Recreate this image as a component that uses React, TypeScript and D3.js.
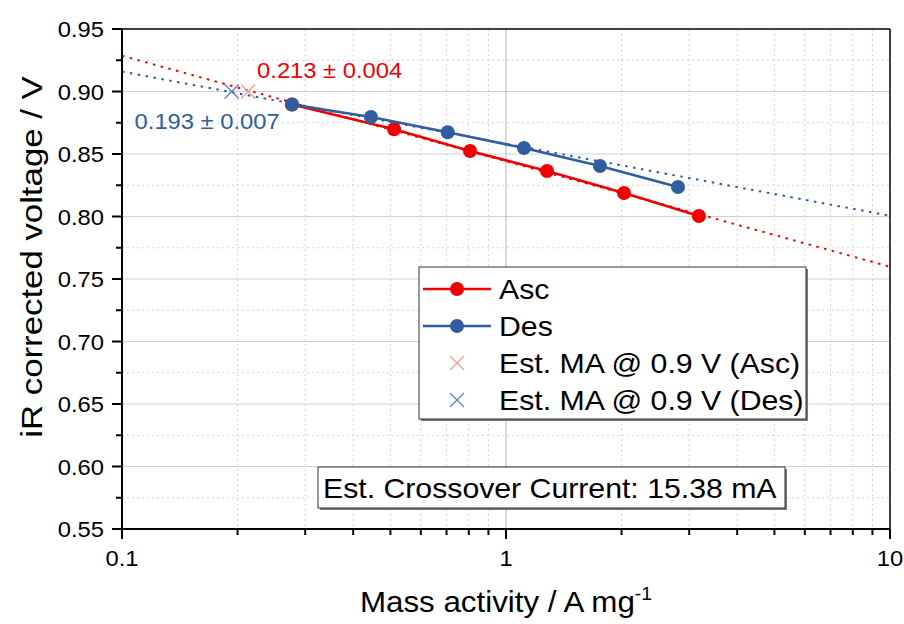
import React from "react";
import * as d3 from "d3";

// ---- data ----
const ascMA = [0.277, 0.511, 0.806, 1.279, 2.029, 3.18];
const ascV = [0.8896, 0.8698, 0.8524, 0.8364, 0.8188, 0.8004];
const desMA = [0.277, 0.445, 0.705, 1.114, 1.757, 2.805];
const desV = [0.8896, 0.8796, 0.8674, 0.8548, 0.8404, 0.8236];
const fitIntercepts = [0.8442, 0.85825]; // V at 1 A/mg (Asc, Des)
const fitSlopes = [-0.0844, -0.05765]; // V per decade (Asc, Des)
const estMA = [0.213, 0.193];
const estV = [0.9, 0.9];
const estLabels = ["0.213 ± 0.004", "0.193 ± 0.007"];
const xTickValues = [0.1, 1, 10];
const xTickLabels = ["0.1", "1", "10"];
const yTickValues = [0.55, 0.6, 0.65, 0.7, 0.75, 0.8, 0.85, 0.9, 0.95];
const yTickLabels = ["0.55", "0.60", "0.65", "0.70", "0.75", "0.80", "0.85", "0.90", "0.95"];
const legendLabels = ["Asc", "Des", "Est. MA @ 0.9 V (Asc)", "Est. MA @ 0.9 V (Des)"];
const crossoverText = "Est. Crossover Current: 15.38 mA";
const xTitle = "Mass activity / A mg";
const xTitleSup = "-1";
const yTitle = "iR corrected voltage / V";

// ---- styles ----
const RED = "#f00000";
const BLUE = "#2f5d9f";
const RED_X = "#f49a9a";
const BLUE_X = "#5a7fc0";
const FONT = "'Liberation Sans', Arial, sans-serif";
const SX = 1.08;

const W = 904;
const H = 624;
const L = 122, R = 890, T = 29, B = 529;

const x = d3.scaleLog().domain([0.1, 10]).range([L, R]);
const y = d3.scaleLinear().domain([0.55, 0.95]).range([B, T]);

function Txt({ x: tx, y: ty, size, fill = "#000", anchor = "start", rotate = 0, sx = SX, children }: any) {
  return (
    <text
      transform={`translate(${tx},${ty}) rotate(${rotate}) scale(${sx},1)`}
      fontFamily={FONT}
      fontSize={size}
      fill={fill}
      textAnchor={anchor}
    >
      {children}
    </text>
  );
}

function Cross({ cx, cy, s, color }: any) {
  return (
    <g stroke={color} strokeWidth={1.3}>
      <line x1={cx - s} y1={cy - s} x2={cx + s} y2={cy + s} />
      <line x1={cx - s} y1={cy + s} x2={cx + s} y2={cy - s} />
    </g>
  );
}

export default function App() {
  const minorX: number[] = [];
  [0.1, 1].forEach((d) => {
    for (let k = 2; k <= 9; k++) minorX.push(d * k);
  });
  const minorY: number[] = [];
  for (let i = 0; i < yTickValues.length - 1; i++) minorY.push((yTickValues[i] + yTickValues[i + 1]) / 2);

  const line = d3
    .line<[number, number]>()
    .x((d) => x(d[0]))
    .y((d) => y(d[1]));

  const ascPts: [number, number][] = ascMA.map((m, i) => [m, ascV[i]]);
  const desPts: [number, number][] = desMA.map((m, i) => [m, desV[i]]);
  const fitPts = (i: number): [number, number][] =>
    x.domain().map((m) => [m, fitIntercepts[i] + fitSlopes[i] * Math.log10(m)] as [number, number]);

  const colors = [RED, BLUE];
  const xColors = [RED_X, BLUE_X];

  // legend
  const lgX = 419, lgY = 267, lgW = 387, lgH = 152;
  const rowY = [289, 326, 363, 400];

  return (
    <svg width={W} height={H} style={{ position: "absolute", left: 0, top: 0, background: "#fff" }}>
      <rect x={0} y={0} width={W} height={H} fill="#fff" />
      <defs>
        <clipPath id="plot">
          <rect x={L} y={T} width={R - L} height={B - T} />
        </clipPath>
      </defs>

      {/* grid */}
      <g>
        {minorY.map((v) => (
          <line key={"my" + v} x1={L} x2={R} y1={y(v)} y2={y(v)} stroke="#d4d4d4" strokeWidth={1} strokeDasharray="2 3" />
        ))}
        {minorX.map((v) => (
          <line key={"mx" + v} x1={x(v)} x2={x(v)} y1={T} y2={B} stroke="#d4d4d4" strokeWidth={1} strokeDasharray="2 3" />
        ))}
        {yTickValues.slice(1, -1).map((v) => (
          <line key={"gy" + v} x1={L} x2={R} y1={y(v)} y2={y(v)} stroke="#d2d2d2" strokeWidth={1} />
        ))}
        {xTickValues.slice(1, -1).map((v) => (
          <line key={"gx" + v} x1={x(v)} x2={x(v)} y1={T} y2={B} stroke="#b4b4b4" strokeWidth={1} />
        ))}
      </g>

      {/* fit lines */}
      <g clipPath="url(#plot)">
        {[0, 1].map((i) => (
          <path
            key={"fit" + i}
            d={line(fitPts(i)) || ""}
            fill="none"
            stroke={colors[i]}
            strokeWidth={2}
            strokeDasharray="2.5 5.5"
          />
        ))}
      </g>

      {/* data series */}
      <path d={line(ascPts) || ""} fill="none" stroke={RED} strokeWidth={2.5} />
      {ascPts.map((p, i) => (
        <circle key={"a" + i} cx={x(p[0])} cy={y(p[1])} r={7} fill={RED} />
      ))}
      <path d={line(desPts) || ""} fill="none" stroke={BLUE} strokeWidth={2.5} />
      {desPts.map((p, i) => (
        <circle key={"d" + i} cx={x(p[0])} cy={y(p[1])} r={7} fill={BLUE} />
      ))}

      {/* estimates */}
      {estMA.map((m, i) => (
        <Cross key={"e" + i} cx={x(m)} cy={y(estV[i])} s={7} color={xColors[i]} />
      ))}
      <Txt x={x(estMA[0]) + 9} y={y(estV[0]) - 14} size={22} fill={RED}>
        {estLabels[0]}
      </Txt>
      <Txt x={x(estMA[1]) + 48} y={y(estV[1]) + 37} size={22} fill={BLUE} anchor="end">
        {estLabels[1]}
      </Txt>

      {/* legend */}
      <rect x={lgX + 2} y={lgY + 2} width={lgW} height={lgH} fill="#777" />
      <rect x={lgX} y={lgY} width={lgW} height={lgH} fill="#fff" stroke="#333" strokeWidth={1} />
      {[0, 1].map((i) => (
        <g key={"lg" + i}>
          <line x1={lgX + 4} x2={lgX + 72} y1={rowY[i]} y2={rowY[i]} stroke={colors[i]} strokeWidth={2.5} />
          <circle cx={lgX + 38} cy={rowY[i]} r={7} fill={colors[i]} />
        </g>
      ))}
      {[0, 1].map((i) => (
        <Cross key={"lgx" + i} cx={lgX + 38} cy={rowY[i + 2]} s={7} color={xColors[i]} />
      ))}
      {legendLabels.map((t, i) => (
        <Txt key={"lt" + i} x={lgX + 80} y={rowY[i] + 10} size={28}>
          {t}
        </Txt>
      ))}

      {/* crossover box */}
      <rect x={320} y={469} width={467} height={41} fill="#777" />
      <rect x={318} y={467} width={467} height={41} fill="#fff" stroke="#333" strokeWidth={1} />
      <Txt x={323} y={498} size={28}>
        {crossoverText}
      </Txt>

      {/* axes frame */}
      <line x1={L} x2={R} y1={T} y2={T} stroke="#000" strokeWidth={1.5} />
      <line x1={R} x2={R} y1={T} y2={B} stroke="#000" strokeWidth={1.5} />
      <line x1={L} x2={R} y1={B} y2={B} stroke="#000" strokeWidth={2} />
      <line x1={L} x2={L} y1={T} y2={B} stroke="#000" strokeWidth={2} />

      {/* x ticks */}
      {xTickValues.map((v, i) => (
        <g key={"xt" + v}>
          <line x1={x(v)} x2={x(v)} y1={B} y2={B + 10} stroke="#000" strokeWidth={2} />
          <Txt x={x(v)} y={B + 37} size={22} anchor="middle">
            {xTickLabels[i]}
          </Txt>
        </g>
      ))}
      {minorX.map((v) => (
        <line key={"xm" + v} x1={x(v)} x2={x(v)} y1={B} y2={B + 6} stroke="#000" strokeWidth={2} />
      ))}

      {/* y ticks */}
      {yTickValues.map((v, i) => (
        <g key={"yt" + v}>
          <line x1={L - 10} x2={L} y1={y(v)} y2={y(v)} stroke="#000" strokeWidth={2} />
          <Txt x={L - 18} y={y(v) + 8} size={22} anchor="end">
            {yTickLabels[i]}
          </Txt>
        </g>
      ))}
      {minorY.map((v) => (
        <line key={"ym" + v} x1={L - 6} x2={L} y1={y(v)} y2={y(v)} stroke="#000" strokeWidth={2} />
      ))}

      {/* axis titles */}
      <text
        transform={`translate(${(L + R) / 2},612) scale(${SX},1)`}
        fontFamily={FONT}
        fontSize={29}
        textAnchor="middle"
      >
        {xTitle}
        <tspan fontSize={18} dy={-12}>
          {xTitleSup}
        </tspan>
      </text>
      <Txt x={42} y={(T + B) / 2 - 22} size={29} anchor="middle" rotate={-90} sx={1.2}>
        {yTitle}
      </Txt>
    </svg>
  );
}
